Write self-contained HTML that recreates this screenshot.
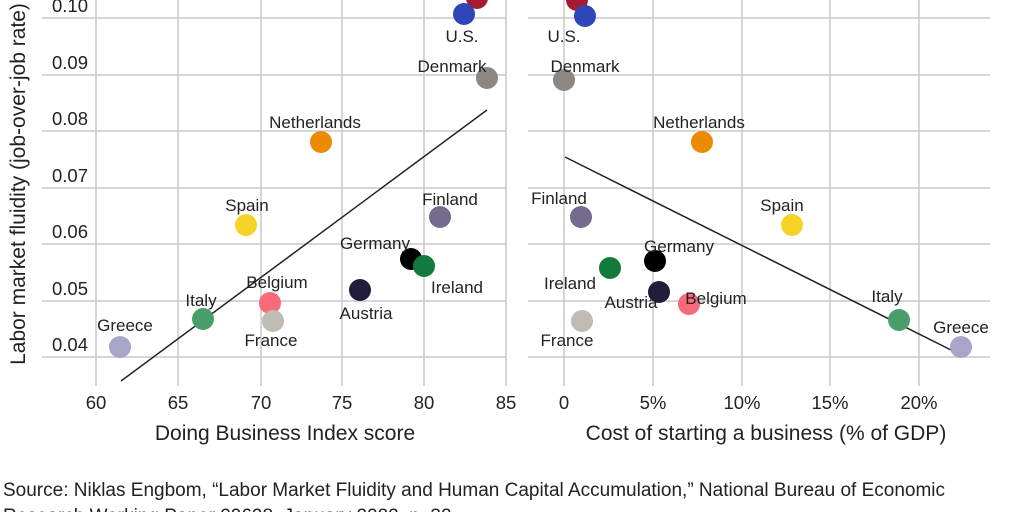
<!DOCTYPE html>
<html><head><meta charset="utf-8"><style>
body{margin:0;background:#fff;}
svg{display:block;font-family:"Liberation Sans",sans-serif;}
</style></head><body>
<svg width="1024" height="512" viewBox="0 0 1024 512">
<g stroke="#c8c8c8" stroke-width="1.5">
<line x1="42" y1="18" x2="506" y2="18"/><line x1="42" y1="75" x2="506" y2="75"/><line x1="42" y1="131" x2="506" y2="131"/><line x1="42" y1="188" x2="506" y2="188"/><line x1="42" y1="244" x2="506" y2="244"/><line x1="42" y1="301" x2="506" y2="301"/><line x1="42" y1="357" x2="506" y2="357"/>
<line x1="528" y1="18" x2="990" y2="18"/><line x1="528" y1="75" x2="990" y2="75"/><line x1="528" y1="131" x2="990" y2="131"/><line x1="528" y1="188" x2="990" y2="188"/><line x1="528" y1="244" x2="990" y2="244"/><line x1="528" y1="301" x2="990" y2="301"/><line x1="528" y1="357" x2="990" y2="357"/>
<line x1="96" y1="0" x2="96" y2="386"/><line x1="178" y1="0" x2="178" y2="386"/><line x1="261" y1="0" x2="261" y2="386"/><line x1="342" y1="0" x2="342" y2="386"/><line x1="424" y1="0" x2="424" y2="386"/><line x1="506" y1="0" x2="506" y2="386"/>
<line x1="564" y1="0" x2="564" y2="386"/><line x1="653" y1="0" x2="653" y2="386"/><line x1="742" y1="0" x2="742" y2="386"/><line x1="830" y1="0" x2="830" y2="386"/><line x1="919" y1="0" x2="919" y2="386"/>
</g>
<g font-size="18.5" fill="#222" text-anchor="end">
<text x="88" y="12">0.10</text><text x="88" y="69">0.09</text><text x="88" y="125">0.08</text><text x="88" y="182">0.07</text><text x="88" y="238">0.06</text><text x="88" y="295">0.05</text><text x="88" y="351">0.04</text>
</g>
<g font-size="18.5" fill="#222" text-anchor="middle">
<text x="96" y="409">60</text><text x="178" y="409">65</text><text x="261" y="409">70</text><text x="342" y="409">75</text><text x="424" y="409">80</text><text x="506" y="409">85</text>
<text x="564" y="409">0</text><text x="653" y="409">5%</text><text x="742" y="409">10%</text><text x="830" y="409">15%</text><text x="919" y="409">20%</text>
<text x="285" y="440" font-size="21">Doing Business Index score</text>
<text x="766" y="440" font-size="21">Cost of starting a business (% of GDP)</text>
<text transform="translate(25,184) rotate(-90)" font-size="21">Labor market fluidity (job-over-job rate)</text>
</g>
<text x="3" y="496" font-size="19" fill="#222">Source: Niklas Engbom, “Labor Market Fluidity and Human Capital Accumulation,” National Bureau of Economic</text>
<text x="3" y="522" font-size="19" fill="#222">Research Working Paper 29698, January 2022, p. 32.</text>
<line x1="121" y1="381" x2="487" y2="110" stroke="#222" stroke-width="1.5"/>
<line x1="565" y1="157" x2="961" y2="355" stroke="#222" stroke-width="1.5"/>
<g>
<circle cx="477" cy="-2" r="11" fill="#a51c30"/><circle cx="464" cy="14" r="11" fill="#2e46b8"/><circle cx="487" cy="78" r="11" fill="#8c8780"/><circle cx="321" cy="142" r="11" fill="#ec8a00"/><circle cx="246" cy="225" r="11" fill="#f5d327"/><circle cx="440" cy="217" r="11" fill="#736c8f"/><circle cx="411" cy="259" r="11" fill="#000"/><circle cx="424" cy="266" r="11" fill="#137a3e"/><circle cx="360" cy="290" r="11" fill="#1f1d3a"/><circle cx="270" cy="303" r="11" fill="#f76a7a"/><circle cx="273" cy="321" r="11" fill="#c0bbb3"/><circle cx="203" cy="319" r="11" fill="#4a9e6a"/><circle cx="120" cy="347" r="11" fill="#a9a5c8"/>
<circle cx="577" cy="0" r="11" fill="#a51c30"/><circle cx="585" cy="16" r="11" fill="#2e46b8"/><circle cx="564" cy="80" r="11" fill="#8c8780"/><circle cx="702" cy="142" r="11" fill="#ec8a00"/><circle cx="792" cy="225" r="11" fill="#f5d327"/><circle cx="581" cy="217" r="11" fill="#736c8f"/><circle cx="655" cy="261" r="11" fill="#000"/><circle cx="610" cy="268" r="11" fill="#137a3e"/><circle cx="659" cy="292" r="11" fill="#1f1d3a"/><circle cx="689" cy="304" r="11" fill="#f76a7a"/><circle cx="582" cy="321" r="11" fill="#c0bbb3"/><circle cx="899" cy="320" r="11" fill="#4a9e6a"/><circle cx="961" cy="347" r="11" fill="#a9a5c8"/>
</g>
<g font-size="17" fill="#222" text-anchor="middle">
<text x="462" y="42">U.S.</text><text x="452" y="72">Denmark</text><text x="315" y="128">Netherlands</text><text x="247" y="211">Spain</text><text x="450" y="205">Finland</text><text x="375" y="249">Germany</text><text x="457" y="293">Ireland</text><text x="366" y="319">Austria</text><text x="277" y="288">Belgium</text><text x="271" y="346">France</text><text x="201" y="306">Italy</text><text x="125" y="331">Greece</text>
<text x="564" y="42">U.S.</text><text x="585" y="72">Denmark</text><text x="699" y="128">Netherlands</text><text x="782" y="211">Spain</text><text x="559" y="204">Finland</text><text x="679" y="252">Germany</text><text x="570" y="289">Ireland</text><text x="631" y="308">Austria</text><text x="716" y="304">Belgium</text><text x="567" y="346">France</text><text x="887" y="302">Italy</text><text x="961" y="333">Greece</text>
</g>
</svg>
</body></html>
